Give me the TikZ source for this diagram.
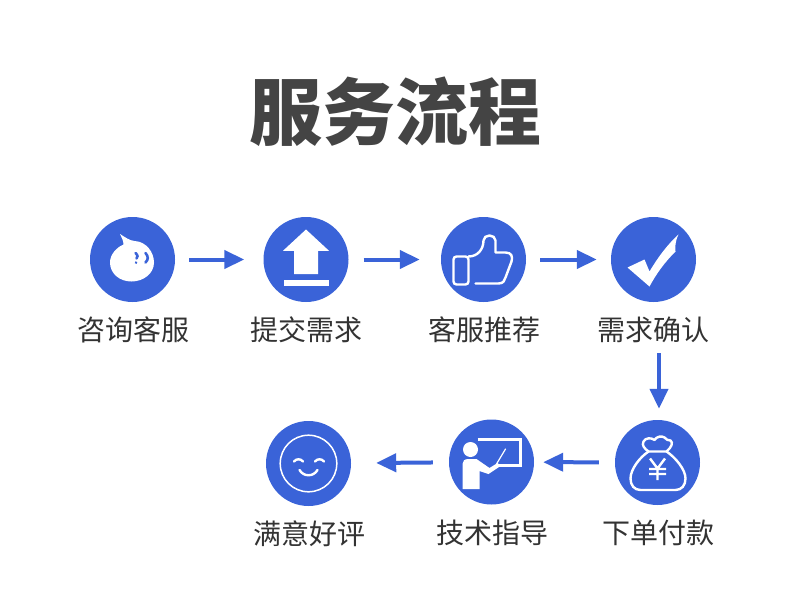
\documentclass[tikz,border=0pt]{standalone}
\usepackage{fontspec}
\newfontfamily\cjk{Noto Sans CJK SC}
\usetikzlibrary{arrows.meta}
\definecolor{stepblue}{RGB}{58,99,216}
\definecolor{titlegray}{RGB}{68,68,68}
\definecolor{labelgray}{RGB}{51,51,51}

\begin{document}
\begin{tikzpicture}[x=1pt,y=-1pt,
  stepdot/.style={circle,fill=stepblue,minimum size=85pt,inner sep=0pt},
  steplabel/.style={font=\cjk\fontsize{28}{28}\selectfont,text=labelgray,inner sep=0pt},
  flow/.style={draw=stepblue,line width=4pt,-{Triangle[length=20pt,width=18pt]}},
  iconline/.style={draw=white,line width=2.4pt,line join=round,line cap=round},
  iconfill/.style={fill=white}]
\useasboundingbox (0,0) rectangle (790,594);
\node[font=\cjk\bfseries\fontsize{73}{73}\selectfont,text=titlegray,inner sep=0pt] (title) at (395.5,112) {服务流程};

\node[stepdot] (consult) at (132.5,259.5) {};
\node[stepdot] (submit) at (306,259.5) {};
\node[stepdot] (recommend) at (483.5,259.5) {};
\node[stepdot] (confirm) at (653.5,259.5) {};
\node[stepdot] (pay) at (657.5,462.5) {};
\node[stepdot] (teach) at (491.5,462) {};
\node[stepdot] (praise) at (308.5,463.5) {};

\node[steplabel] (consultlabel) at (133,330) {咨询客服};
\node[steplabel] (submitlabel) at (306,330) {提交需求};
\node[steplabel] (recommendlabel) at (484,330) {客服推荐};
\node[steplabel] (confirmlabel) at (653,330) {需求确认};
\node[steplabel] (paylabel) at (658,533) {下单付款};
\node[steplabel] (teachlabel) at (492,533) {技术指导};
\node[steplabel] (praiselabel) at (309,534) {满意好评};

\draw[flow,shorten <=14pt,shorten >=19pt] (consult) -- (submit);
\draw[flow,shorten <=15pt,shorten >=21pt] (submit) -- (recommend);
\draw[flow,shorten <=14pt,shorten >=14pt] (recommend) -- (confirm);
\coordinate (turn) at (659,353);
\draw[flow,shorten >=11pt] (turn) -- (turn |- pay.north);
\draw[flow,shorten <=16pt,shorten >=9pt] (pay) -- (teach);
\draw[flow,shorten <=16pt,shorten >=25pt] (teach) -- (praise);

\begin{scope}[shift={(consult)}]
\fill[iconfill] (-12.5,-25.5) .. controls (-7,-22) and (-3,-19) .. (2,-18.5)
  .. controls (14,-18) and (21.5,-7) .. (21.5,3)
  .. controls (21.5,14) and (11,22) .. (-1,22)
  .. controls (-13,22) and (-22.5,14) .. (-22.5,3)
  .. controls (-22.5,-5) and (-16,-12) .. (-9,-15)
  .. controls (-9,-19) and (-11,-22) .. (-12.5,-25.5) -- cycle;
\draw[stepblue,line width=2.6pt,line cap=round] (3,-6.5) .. controls (5.5,-4.5) and (5.5,-2) .. (4,-1)
  (3.5,3) -- (3.6,3.2);
\draw[stepblue,line width=2.6pt,line cap=round] (13,-6.5) .. controls (16,-3) and (16,0) .. (13,3);
\end{scope}

\begin{scope}[shift={(submit)}]
\fill[iconfill] (0,-30) -- (23,-8.7) -- (12,-8.7) -- (12,14.7) -- (-12,14.7) -- (-12,-8.7) -- (-23,-8.7) -- cycle;
\fill[iconfill] (-22.5,20.7) rectangle (22.5,26);
\end{scope}

\begin{scope}[shift={(recommend)}]
\draw[iconline,rounded corners=3pt] (-15,-3) -- (-30,-3) -- (-30,25) -- (-15,25) -- cycle;
\draw[iconline] (-8,24) -- (15,24) .. controls (20,24) and (21,21) .. (22,18) -- (28,2)
  .. controls (29.5,-3) and (28,-7) .. (22,-7) -- (12,-7) -- (12,-19)
  .. controls (12,-22) and (9,-24) .. (6,-24) .. controls (3,-24) and (0,-22) .. (0,-19)
  .. controls (0,-10) and (-6,-3) .. (-15,-3);
\end{scope}

\begin{scope}[shift={(confirm)}]
\fill[iconfill] (-26,8) -- (-9,0) -- (-4,12) .. controls (5,-3) and (14,-15) .. (25,-25)
  .. controls (21,-17) and (22,-12) .. (22,-8)
  .. controls (11,3) and (3,14) .. (-4,27) -- cycle;
\end{scope}

\begin{scope}[shift={(pay)}]
\draw[iconline] (-9,-11) .. controls (-13,-14) and (-16,-17) .. (-14,-21)
  .. controls (-12,-25) and (-6,-25) .. (-3,-22.5)
  .. controls (-1,-26) and (4,-27) .. (7,-25)
  .. controls (9,-23) and (10,-22) .. (13,-22)
  .. controls (16,-20) and (14,-15) .. (9,-11) -- cycle;
\draw[iconline] (-9,-11) .. controls (-18,-5) and (-27,7) .. (-27,16)
  .. controls (-27,23) and (-23,27.5) .. (-17,27.5) -- (18,27.5)
  .. controls (24,27.5) and (28,23) .. (28,16)
  .. controls (28,7) and (18,-5) .. (9,-11);
\draw[iconline,line cap=butt] (-7.5,-4) -- (0,6) -- (7.5,-4) (0,6) -- (0,17.5) (-8.5,6.5) -- (8.5,6.5) (-8.5,11.5) -- (8.5,11.5);
\end{scope}

\begin{scope}[shift={(teach)}]
\draw[iconline,line width=3pt,line cap=butt,line join=miter] (-14,-23) -- (29,-23) -- (29,3) -- (7,3);
\fill[iconfill] (-21,-12.5) circle (7.5);
\fill[iconfill] (-29,27) -- (-29,2) .. controls (-29,-1) and (-27,-3) .. (-23,-3)
  -- (-15,-3) -- (-2,6) -- (6,1) -- (9,4) -- (-3,12) -- (-12,9) -- (-12,27) -- cycle;
\draw[iconline,line width=1.2pt] (5,2) -- (14,-13);
\end{scope}

\begin{scope}[shift={(praise)}]
\draw[iconline,line width=1.5pt] (0,0) circle (28.3);
\draw[iconline] (-14.5,-2) .. controls (-12,-5) and (-8,-5) .. (-5.5,-2);
\draw[iconline] (6.5,-2) .. controls (9,-5) and (13,-5) .. (15.5,-2);
\draw[iconline] (-9,6.5) .. controls (-5,13.5) and (5,13.5) .. (9,6.5);
\end{scope}
\end{tikzpicture}
\end{document}
